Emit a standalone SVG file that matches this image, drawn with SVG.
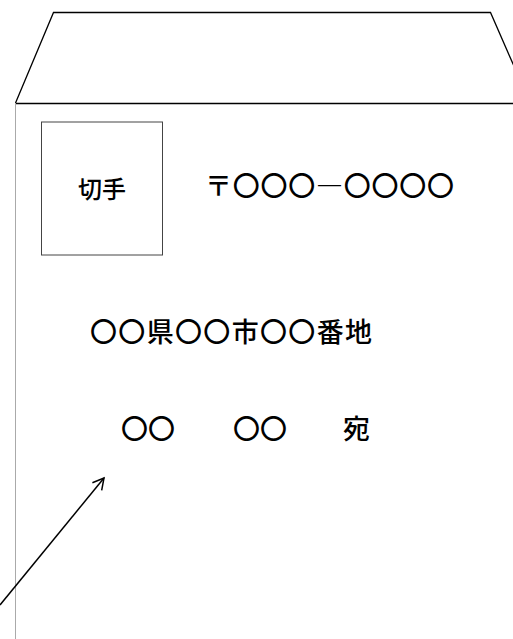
<svg xmlns="http://www.w3.org/2000/svg" width="513" height="639" viewBox="0 0 513 639">
<style>
.ln{fill:none;stroke:#000;stroke-width:1.3}
.t{font-family:"Noto Sans CJK JP","Noto Sans",sans-serif;fill:#000;font-weight:500}
</style>
<defs>
<marker id="ah" markerWidth="14" markerHeight="14" refX="12" refY="7" orient="auto" markerUnits="userSpaceOnUse">
<path d="M1,1 L12,7 L1,13" fill="none" stroke="#000" stroke-width="1.5"/>
</marker>
</defs>
<rect width="513" height="639" fill="#fff"/>
<g id="envelope">
<path class="ln" d="M15.5,103 L53.5,12.5 L490.5,12.5 L520,80"/>
<line class="ln" x1="15" y1="103.5" x2="513" y2="103.5"/>
<line x1="15.5" y1="103" x2="15.5" y2="639" stroke="#aaa" stroke-width="1"/>
</g>
<g id="stamp">
<rect x="41.5" y="122" width="121" height="133" fill="none" stroke="#444" stroke-width="1"/>
<text class="t" x="102" y="198" font-size="24" text-anchor="middle">切手</text>
</g>
<g id="postal">
<text class="t" x="205" y="196" font-size="27" textLength="249" lengthAdjust="spacing">〒〇〇〇―〇〇〇〇</text>
</g>
<g id="address">
<text class="t" x="90" y="342" font-size="27" textLength="282" lengthAdjust="spacing">〇〇県〇〇市〇〇番地</text>
</g>
<g id="name">
<text class="t" x="121" y="439" font-size="27">〇〇</text>
<text class="t" x="233" y="439" font-size="27">〇〇</text>
<text class="t" x="343" y="439" font-size="27">宛</text>
</g>
<g id="connectors">
<line x1="0" y1="605" x2="104" y2="478" stroke="#000" stroke-width="1.5" marker-end="url(#ah)"/>
</g>
</svg>
